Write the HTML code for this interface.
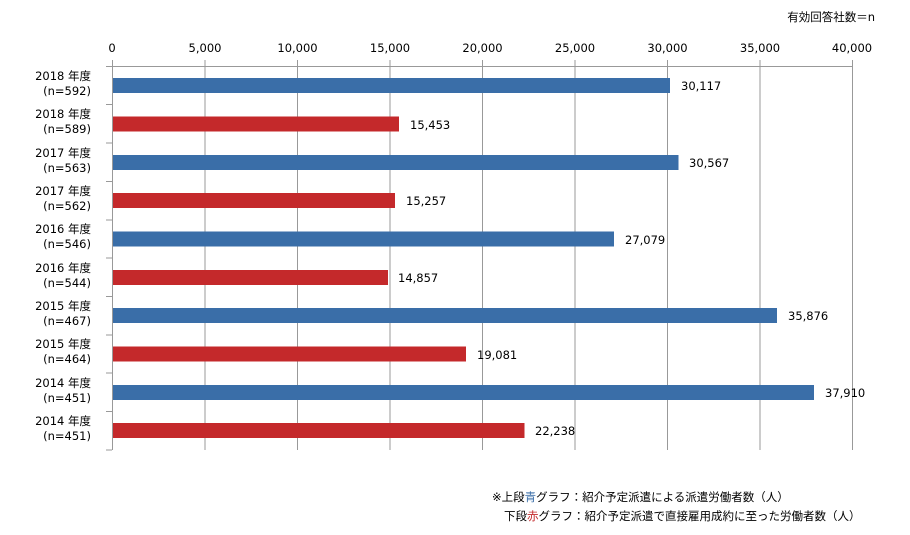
<!DOCTYPE html>
<html><head><meta charset="utf-8"><style>
body{margin:0;background:#fff;}
svg{display:block;font-family:"DejaVu Sans","Noto Sans CJK JP",sans-serif;}
</style></head><body>
<svg width="910" height="535" viewBox="0 0 910 535" xmlns="http://www.w3.org/2000/svg">
<text x="875" y="21" font-size="11.5" text-anchor="end" fill="#000">有効回答社数＝n</text>
<g stroke="#999" stroke-width="1">
<line x1="112.5" y1="60" x2="112.5" y2="450"/>
<line x1="205" y1="60" x2="205" y2="450"/>
<line x1="297.5" y1="60" x2="297.5" y2="450"/>
<line x1="390" y1="60" x2="390" y2="450"/>
<line x1="482.5" y1="60" x2="482.5" y2="450"/>
<line x1="575" y1="60" x2="575" y2="450"/>
<line x1="667.5" y1="60" x2="667.5" y2="450"/>
<line x1="760" y1="60" x2="760" y2="450"/>
<line x1="852.5" y1="60" x2="852.5" y2="450"/>
<line x1="112" y1="66.5" x2="853" y2="66.5"/>
<line x1="106" y1="66.5" x2="112" y2="66.5"/>
<line x1="106" y1="104.5" x2="112" y2="104.5"/>
<line x1="106" y1="143" x2="112" y2="143"/>
<line x1="106" y1="181.5" x2="112" y2="181.5"/>
<line x1="106" y1="220" x2="112" y2="220"/>
<line x1="106" y1="258" x2="112" y2="258"/>
<line x1="106" y1="296.5" x2="112" y2="296.5"/>
<line x1="106" y1="335" x2="112" y2="335"/>
<line x1="106" y1="373" x2="112" y2="373"/>
<line x1="106" y1="411.5" x2="112" y2="411.5"/>
<line x1="106" y1="450" x2="112" y2="450"/>
</g>
<g font-size="11.5" text-anchor="middle" fill="#000">
<text x="112" y="52">0</text><text x="205" y="52">5,000</text><text x="297.5" y="52">10,000</text>
<text x="390" y="52">15,000</text><text x="482.5" y="52">20,000</text><text x="575" y="52">25,000</text>
<text x="667.5" y="52">30,000</text><text x="760" y="52">35,000</text><text x="852" y="52">40,000</text>
</g>
<g>
<rect x="113" y="78" width="557" height="15" fill="#3a6ea8"/>
<rect x="113" y="116.5" width="286" height="15" fill="#c4292b"/>
<rect x="113" y="155" width="565.5" height="15" fill="#3a6ea8"/>
<rect x="113" y="193" width="282" height="15" fill="#c4292b"/>
<rect x="113" y="231.5" width="501" height="15" fill="#3a6ea8"/>
<rect x="113" y="270" width="275" height="15" fill="#c4292b"/>
<rect x="113" y="308" width="664" height="15" fill="#3a6ea8"/>
<rect x="113" y="346.5" width="353" height="15" fill="#c4292b"/>
<rect x="113" y="385" width="701" height="15" fill="#3a6ea8"/>
<rect x="113" y="423" width="411.5" height="15" fill="#c4292b"/>
</g>
<g font-size="11.5" fill="#000">
<text x="681" y="90">30,117</text>
<text x="410" y="129">15,453</text>
<text x="689" y="167">30,567</text>
<text x="406" y="205">15,257</text>
<text x="625" y="244">27,079</text>
<text x="398" y="282">14,857</text>
<text x="788" y="320">35,876</text>
<text x="477" y="359">19,081</text>
<text x="825" y="397">37,910</text>
<text x="535" y="435">22,238</text>
</g>
<g font-size="11.5" text-anchor="end" fill="#000">
<text x="91" y="80">2018 年度</text><text x="91" y="95">(n=592)</text>
<text x="91" y="118">2018 年度</text><text x="91" y="133">(n=589)</text>
<text x="91" y="157">2017 年度</text><text x="91" y="172">(n=563)</text>
<text x="91" y="195">2017 年度</text><text x="91" y="210">(n=562)</text>
<text x="91" y="233">2016 年度</text><text x="91" y="248">(n=546)</text>
<text x="91" y="272">2016 年度</text><text x="91" y="287">(n=544)</text>
<text x="91" y="310">2015 年度</text><text x="91" y="325">(n=467)</text>
<text x="91" y="348">2015 年度</text><text x="91" y="363">(n=464)</text>
<text x="91" y="387">2014 年度</text><text x="91" y="402">(n=451)</text>
<text x="91" y="425">2014 年度</text><text x="91" y="440">(n=451)</text>
</g>
<g font-size="11.5" fill="#000">
<text x="492" y="501">※上段<tspan fill="#3a6ea8">青</tspan>グラフ：紹介予定派遣による派遣労働者数（人）</text>
<text x="504" y="520">下段<tspan fill="#c4292b">赤</tspan>グラフ：紹介予定派遣で直接雇用成約に至った労働者数（人）</text>
</g>
</svg>
</body></html>
